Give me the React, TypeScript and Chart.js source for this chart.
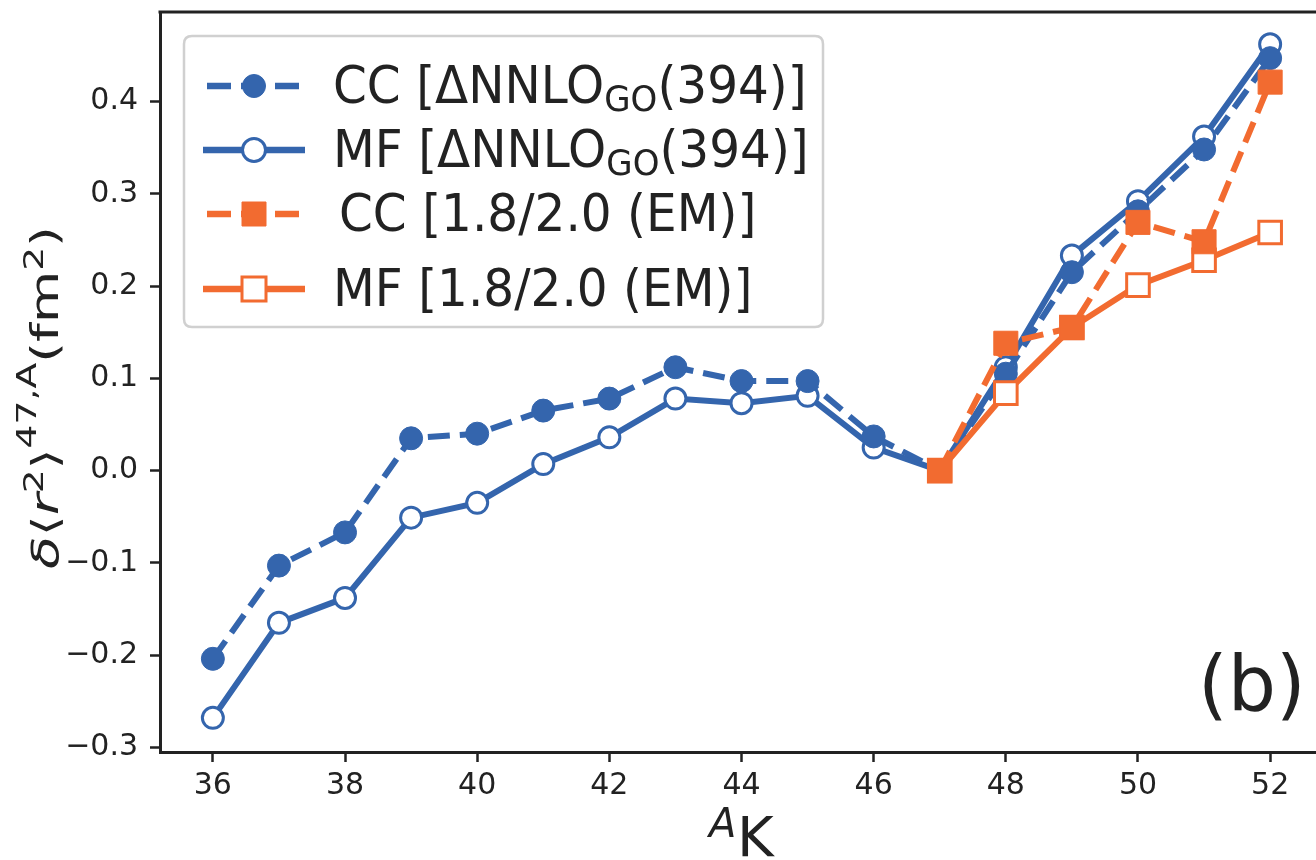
import React, { useEffect, useRef } from 'react';
import { Chart, registerables } from 'chart.js';

Chart.register(...registerables);

// ---- data ----
const massNumbers = [36, 37, 38, 39, 40, 41, 42, 43, 44, 45, 46, 47, 48, 49, 50, 51, 52];
const ccDeltaNNLO = [-0.204, -0.103, -0.067, 0.035, 0.040, 0.065, 0.078, 0.112, 0.097, 0.097, 0.037, 0.0, 0.105, 0.215, 0.281, 0.348, 0.447];
const mfDeltaNNLO = [-0.268, -0.165, -0.138, -0.051, -0.035, 0.007, 0.036, 0.078, 0.073, 0.081, 0.025, 0.0, 0.112, 0.233, 0.292, 0.362, 0.462];
const emMassNumbers = [47, 48, 49, 50, 51, 52];
const ccEM = [0.0, 0.138, 0.155, 0.269, 0.248, 0.421];
const mfEM = [0.0, 0.084, 0.155, 0.201, 0.228, 0.258];
const xTicks = [36, 38, 40, 42, 44, 46, 48, 50, 52];
const yTicks = [-0.3, -0.2, -0.1, 0.0, 0.1, 0.2, 0.3, 0.4];

const BLUE = '#3465ad';
const ORANGE = '#f26b30';
const INK = '#222222';
const FONT = '"DejaVu Sans"';

type Piece = { t: string; size: number; italic?: boolean; dy?: number };

function setFont(ctx: CanvasRenderingContext2D, p: Piece) {
  ctx.font = `${p.italic ? 'italic ' : ''}${p.size}px ${FONT}`;
}
function measurePieces(ctx: CanvasRenderingContext2D, pieces: Piece[]) {
  let w = 0;
  for (const p of pieces) {
    setFont(ctx, p);
    w += ctx.measureText(p.t).width;
  }
  return w;
}
function drawPieces(ctx: CanvasRenderingContext2D, pieces: Piece[], x: number, y: number) {
  let cx = x;
  for (const p of pieces) {
    setFont(ctx, p);
    ctx.fillText(p.t, cx, y + (p.dy || 0));
    cx += ctx.measureText(p.t).width;
  }
}

type LegendEntry = {
  pieces: Piece[];
  color: string;
  dashed: boolean;
  marker: 'circle' | 'rect';
  filled: boolean;
  rowY: number;
  textX: number;
};

const LF = 48.5;
const legendEntries: LegendEntry[] = [
  {
    pieces: [{ t: 'CC [ΔNNLO', size: LF }, { t: 'GO', size: 34, dy: 8 }, { t: '(394)]', size: LF }],
    color: BLUE, dashed: true, marker: 'circle', filled: true, rowY: 86, textX: 333,
  },
  {
    pieces: [{ t: 'MF [ΔNNLO', size: LF }, { t: 'GO', size: 34, dy: 8 }, { t: '(394)]', size: LF }],
    color: BLUE, dashed: false, marker: 'circle', filled: false, rowY: 150, textX: 333,
  },
  {
    pieces: [{ t: 'CC [1.8/2.0 (EM)]', size: LF }],
    color: ORANGE, dashed: true, marker: 'rect', filled: true, rowY: 214, textX: 339,
  },
  {
    pieces: [{ t: 'MF [1.8/2.0 (EM)]', size: LF }],
    color: ORANGE, dashed: false, marker: 'rect', filled: false, rowY: 289, textX: 333,
  },
];

function drawMarker(ctx: CanvasRenderingContext2D, e: LegendEntry, x: number, y: number) {
  ctx.beginPath();
  if (e.marker === 'circle') {
    ctx.arc(x, y, 11.5, 0, Math.PI * 2);
  } else {
    ctx.rect(x - 12, y - 12, 24, 24);
  }
  ctx.fillStyle = e.filled ? e.color : '#ffffff';
  ctx.fill();
  ctx.lineWidth = e.filled ? 1 : 3;
  ctx.strokeStyle = e.color;
  ctx.stroke();
}

const decorPlugin = {
  id: 'decor',
  afterDatasetsDraw(chart: any) {
    const ctx: CanvasRenderingContext2D = chart.ctx;
    const a = chart.chartArea;
    ctx.save();
    // top & right spines
    ctx.strokeStyle = INK;
    ctx.lineWidth = 3;
    ctx.beginPath();
    ctx.moveTo(a.left - 1.5, a.top);
    ctx.lineTo(a.right, a.top);
    ctx.lineTo(a.right, a.bottom);
    ctx.stroke();

    // legend box
    const bx = 184, by = 36, bw = 639, bh = 291, r = 8;
    ctx.beginPath();
    ctx.moveTo(bx + r, by);
    ctx.lineTo(bx + bw - r, by);
    ctx.quadraticCurveTo(bx + bw, by, bx + bw, by + r);
    ctx.lineTo(bx + bw, by + bh - r);
    ctx.quadraticCurveTo(bx + bw, by + bh, bx + bw - r, by + bh);
    ctx.lineTo(bx + r, by + bh);
    ctx.quadraticCurveTo(bx, by + bh, bx, by + bh - r);
    ctx.lineTo(bx, by + r);
    ctx.quadraticCurveTo(bx, by, bx + r, by);
    ctx.closePath();
    ctx.fillStyle = 'rgba(255,255,255,0.85)';
    ctx.fill();
    ctx.strokeStyle = '#d0d0d0';
    ctx.lineWidth = 2.5;
    ctx.stroke();

    for (const e of legendEntries) {
      ctx.save();
      ctx.strokeStyle = e.color;
      ctx.lineWidth = 6.5;
      ctx.lineCap = 'butt';
      if (e.dashed) {
        ctx.setLineDash([24, 10]);
        ctx.beginPath();
        ctx.moveTo(207, e.rowY);
        ctx.lineTo(300, e.rowY);
        ctx.stroke();
      } else {
        ctx.beginPath();
        ctx.moveTo(203, e.rowY);
        ctx.lineTo(305, e.rowY);
        ctx.stroke();
      }
      ctx.restore();
      drawMarker(ctx, e, 254, e.rowY);
      ctx.fillStyle = INK;
      ctx.textBaseline = 'alphabetic';
      ctx.textAlign = 'left';
      ctx.save();
      ctx.translate(e.textX, e.rowY + 17);
      ctx.scale(1, 1.06);
      drawPieces(ctx, e.pieces, 0, 0);
      ctx.restore();
    }

    // panel label
    ctx.fillStyle = INK;
    ctx.font = `76px ${FONT}`;
    ctx.textAlign = 'left';
    ctx.textBaseline = 'alphabetic';
    ctx.fillText('(b)', 1198, 710);

    // x-axis title: ^A K
    ctx.font = `italic 40px ${FONT}`;
    ctx.fillText('A', 709, 837);
    ctx.font = `56px ${FONT}`;
    ctx.fillText('K', 737, 856);

    // y-axis title
    const yPieces: Piece[] = [
      { t: 'δ', size: 37, italic: true },
      { t: '⟨', size: 37 },
      { t: 'r', size: 37, italic: true },
      { t: '2', size: 26, dy: -15 },
      { t: '⟩', size: 37 },
      { t: '47,A', size: 26, dy: -22 },
      { t: '(fm', size: 37 },
      { t: '2', size: 26, dy: -15 },
      { t: ')', size: 37 },
    ];
    const w = measurePieces(ctx, yPieces);
    const stretch = 343 / w;
    ctx.save();
    ctx.translate(58, 569);
    ctx.rotate(-Math.PI / 2);
    ctx.scale(stretch, 1);
    drawPieces(ctx, yPieces, 0, 0);
    ctx.restore();

    ctx.restore();
  },
};

function fmtY(v: number) {
  const n = Number(v);
  const s = Math.abs(n).toFixed(1);
  return n < -1e-9 ? '\u2212' + s : s;
}

export default function App() {
  const ref = useRef<HTMLCanvasElement | null>(null);

  useEffect(() => {
    const canvas = ref.current;
    if (!canvas) return;
    const toPts = (xs: number[], ys: number[]) => xs.map((x, i) => ({ x, y: ys[i] }));

    const chart = new Chart(canvas, {
      type: 'line',
      data: {
        datasets: [
          {
            label: 'CC [1.8/2.0 (EM)]',
            data: toPts(emMassNumbers, ccEM),
            borderColor: ORANGE,
            borderWidth: 6,
            borderDash: [22, 10],
            pointStyle: 'rect',
            pointRadius: 17,
            pointBackgroundColor: ORANGE,
            pointBorderColor: ORANGE,
            pointBorderWidth: 1,
            tension: 0,
            clip: false,
          },
          {
            label: 'MF [1.8/2.0 (EM)]',
            data: toPts(emMassNumbers, mfEM),
            borderColor: ORANGE,
            borderWidth: 6,
            pointStyle: 'rect',
            pointRadius: 16,
            pointBackgroundColor: '#ffffff',
            pointBorderColor: ORANGE,
            pointBorderWidth: 3,
            tension: 0,
            clip: false,
          },
          {
            label: 'CC [ΔNNLO_GO(394)]',
            data: toPts(massNumbers, ccDeltaNNLO),
            borderColor: BLUE,
            borderWidth: 6,
            borderDash: [22, 10],
            pointStyle: 'circle',
            pointRadius: 11.5,
            pointBackgroundColor: BLUE,
            pointBorderColor: BLUE,
            pointBorderWidth: 1,
            tension: 0,
            clip: false,
          },
          {
            label: 'MF [ΔNNLO_GO(394)]',
            data: toPts(massNumbers, mfDeltaNNLO),
            borderColor: BLUE,
            borderWidth: 6,
            pointStyle: 'circle',
            pointRadius: 10.5,
            pointBackgroundColor: '#ffffff',
            pointBorderColor: BLUE,
            pointBorderWidth: 3,
            tension: 0,
            clip: false,
          },
        ],
      },
      options: {
        responsive: false,
        animation: false,
        devicePixelRatio: 1,
        layout: { autoPadding: false, padding: { top: 12, right: 7, left: 0, bottom: 0 } },
        plugins: {
          legend: { display: false },
          tooltip: { enabled: false },
        },
        scales: {
          x: {
            type: 'linear',
            min: 35.2,
            max: 52.8,
            afterBuildTicks: (scale: any) => {
              scale.ticks = xTicks.map((v) => ({ value: v }));
            },
            afterFit: (scale: any) => {
              scale.height = 108;
              scale.paddingLeft = 0;
              scale.paddingRight = 0;
              scale.paddingTop = 0;
              scale.paddingBottom = 0;
            },
            ticks: {
              font: { family: 'DejaVu Sans', size: 30 },
              color: INK,
              padding: 6,
              maxRotation: 0,
              autoSkip: false,
              callback: (v: any) => String(v),
            },
            grid: {
              drawOnChartArea: false,
              drawTicks: true,
              tickLength: 10,
              tickWidth: 2.5,
              tickColor: INK,
              color: INK,
            },
            border: { display: true, width: 3, color: INK },
          },
          y: {
            type: 'linear',
            min: -0.305,
            max: 0.497,
            afterBuildTicks: (scale: any) => {
              scale.ticks = yTicks.map((v) => ({ value: v }));
            },
            afterFit: (scale: any) => {
              scale.width = 160;
              scale.paddingLeft = 0;
              scale.paddingRight = 0;
              scale.paddingTop = 0;
              scale.paddingBottom = 0;
            },
            ticks: {
              font: { family: 'DejaVu Sans', size: 30 },
              color: INK,
              padding: 12,
              autoSkip: false,
              callback: (v: any) => fmtY(v),
            },
            grid: {
              drawOnChartArea: false,
              drawTicks: true,
              tickLength: 10,
              tickWidth: 2.5,
              tickColor: INK,
              color: INK,
            },
            border: { display: true, width: 3, color: INK },
          },
        },
      },
      plugins: [decorPlugin],
    } as any);

    return () => {
      chart.destroy();
    };
  }, []);

  return (
    <div
      style={{
        position: 'fixed',
        left: 0,
        top: 0,
        width: 1316,
        height: 860,
        overflow: 'hidden',
        background: '#ffffff',
      }}
    >
      <canvas ref={ref} width={1330} height={860} style={{ display: 'block', width: 1330, height: 860 }} />
    </div>
  );
}
